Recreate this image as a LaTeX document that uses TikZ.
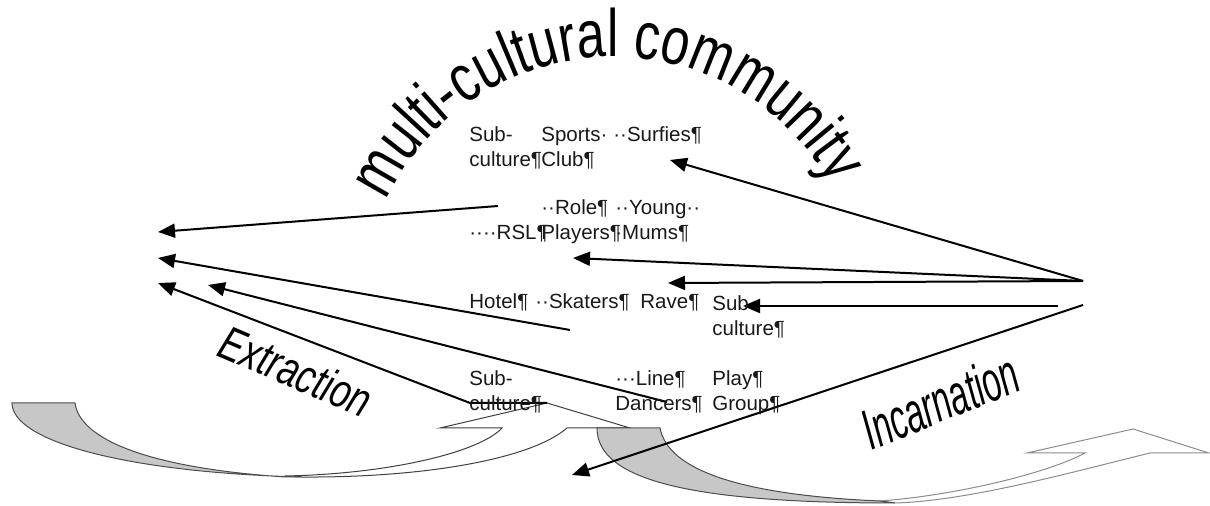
\documentclass[tikz,border=0pt]{standalone}
\usepackage{fontspec}
\setmainfont{Liberation Sans}
\newfontfamily\archfont[FakeStretch=0.76]{Liberation Sans}
\newfontfamily\extrfont[FakeStretch=0.75]{Liberation Sans}
\newfontfamily\incfont[FakeStretch=0.58]{Liberation Sans}
\usetikzlibrary{arrows.meta,decorations.text}
\tikzset{>={Triangle[length=8.5pt,width=7pt]}}
\tikzset{
  cell/.style={font=\fontsize{10.25}{12.5}\selectfont, text=black!90, inner sep=0pt, align=left, anchor=base west},
  link/.style={->, line width=1pt},
  tailpart/.style={fill=black!22, draw=black!70, line width=0.5pt},
  bandpart/.style={fill=white, draw=black!75, line width=0.5pt}
}

\begin{document}
\begin{tikzpicture}[x=0.5pt, y=-0.5pt]
  \useasboundingbox (0,0) rectangle (1210,506);

  % Arch title
  \path[decorate, decoration={text along path, text align=center,
      text={|\archfont\fontsize{33.5}{33.5}\selectfont|multi-cultural community}}]
    (613,307) ++(-162:250) arc[start angle=-162, end angle=-22, radius=250];

  % Left curved arrow
  \filldraw[bandpart] (300,477) .. controls (420,478) and (530,460) .. (567,428)
    -- (630,428) -- (547,403) -- (440,428) -- (502,428)
    .. controls (480,452) and (390,474) .. (285,476) -- cycle;
  \filldraw[tailpart] (12,403) -- (75,403) .. controls (80,440) and (150,468) .. (285,477)
    -- (300,477) .. controls (120,472) and (12,440) .. (12,403) -- cycle;

  % Right curved arrow
  \filldraw[bandpart, draw=black!45] (895,503) .. controls (970,501) and (1080,470) .. (1150,453)
    -- (1209,453) -- (1133,429) -- (1027,453) -- (1085,453)
    .. controls (1050,472) and (960,495) .. (880,501) -- cycle;
  \filldraw[tailpart] (597,428) -- (660,428) .. controls (668,470) and (740,495) .. (880,501)
    -- (895,503) .. controls (690,503) and (597,480) .. (597,428) -- cycle;

  % Ends of the connectors
  \coordinate (extip) at (547,403);
  \coordinate (hub) at (1083,281);
  \coordinate (hubmid) at (1058,306);
  \coordinate (hublow) at (1083,305);
  \coordinate (inA) at (670,160);
  \coordinate (inB) at (573,258);
  \coordinate (inC) at (668,283);
  \coordinate (inD) at (743,306);
  \coordinate (inE) at (572,475);
  \coordinate (exA) at (498,206);
  \coordinate (exB) at (570,330);
  \coordinate (exC) at (667,402);
  \coordinate (exbend) at (470,403);
  \coordinate (outA) at (158,232);
  \coordinate (outB) at (158,258);
  \coordinate (outC) at (208,285);
  \coordinate (outD) at (158,283);

  % Incarnation
  \draw[link] (hub) -- (inA);
  \draw[link] (hub) -- (inB);
  \draw[link] (hub) -- (inC);
  \draw[link] (hubmid) -- (inD);
  \draw[link] (hublow) -- (inE);

  % Extraction
  \draw[link] (exA) -- (outA);
  \draw[link] (exB) -- (outB);
  \draw[link] (exC) -- (outC);
  \draw[link] (extip) -- (exbend) -- (outD);

  % Groups (base = last line)
  \node[cell] (subA) at (469,167) {Sub-\\culture¶};
  \node[cell] (sports) at (541,167) {Sports·\\Club¶};
  \node[cell] (surfies) at (613,142) {··Surfies¶};
  \node[cell] (rsl) at (469,240) {····RSL¶};
  \node[cell] (role) at (541,240) {··Role¶\\Players¶};
  \node[cell] (young) at (615,240) {··Young··\\·Mums¶};
  \node[cell] (hotel) at (469,309) {Hotel¶};
  \node[cell] (skaters) at (535,309) {··Skaters¶};
  \node[cell] (rave) at (640,309) {Rave¶};
  \node[cell] (subB) at (712,336) {Sub\\culture¶};
  \node[cell] (subC) at (469,411) {Sub-\\culture¶};
  \node[cell] (line) at (615,411) {···Line¶\\Dancers¶};
  \node[cell] (play) at (712,411) {Play¶\\Group¶};

  % Labels
  \node[rotate=-23, font=\extrfont\itshape\fontsize{24}{24}\selectfont] (extr) at (296,371) {Extraction};
  \node[rotate=22, font=\incfont\itshape\fontsize{28.5}{28.5}\selectfont] (inc) at (940,401) {Incarnation};
\end{tikzpicture}
\end{document}
